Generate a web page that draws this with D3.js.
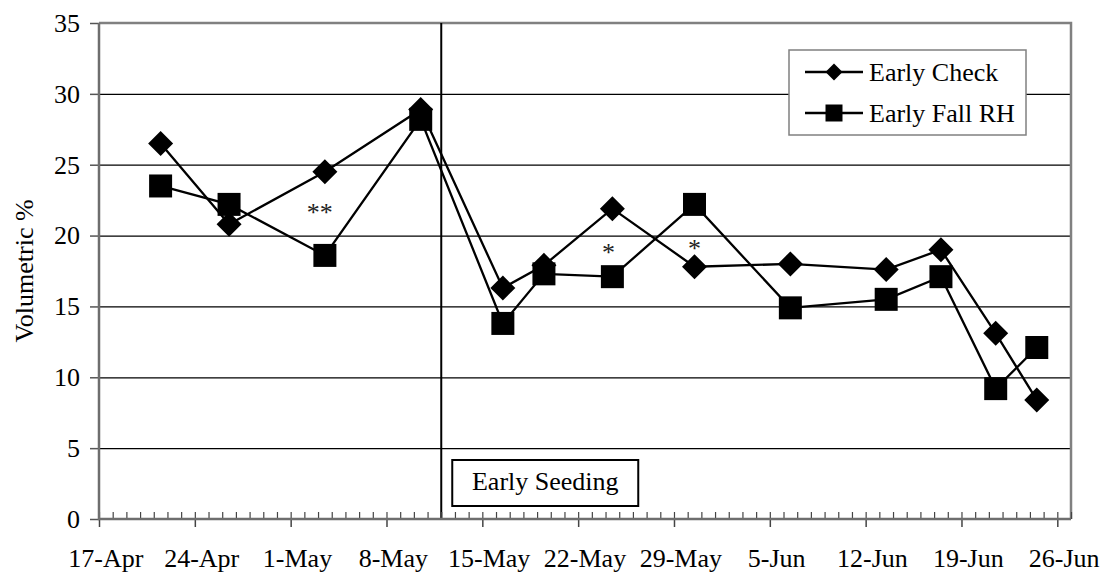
<!DOCTYPE html>
<html>
<head>
<meta charset="utf-8">
<script src="https://cdn.jsdelivr.net/npm/d3@7"></script>
<style>
  body { margin: 0; background: #fff; }
  svg text { font-family: "Liberation Serif", "Times New Roman", Tinos, "DejaVu Serif", serif !important; }
</style>
</head>
<body>
<div id="chart"></div>
<script>
// sampling dates and readings (volumetric soil water %)
var dates = ['21-Apr', '26-Apr', '3-May', '10-May', '16-May', '19-May', '24-May',
             '30-May', '6-Jun', '13-Jun', '17-Jun', '21-Jun', '24-Jun'];
var earlyCheck = [26.5, 20.8, 24.5, 28.9, 16.3, 17.9, 21.9, 17.8, 18.0, 17.6, 19.0, 13.1, 8.4];
var earlyFallRH = [23.5, 22.2, 18.6, 28.2, 13.8, 17.3, 17.1, 22.2, 14.9, 15.5, 17.1, 9.2, 12.1];
var seriesNames = ['Early Check', 'Early Fall RH'];
var majorTicks = ['17-Apr', '24-Apr', '1-May', '8-May', '15-May', '22-May', '29-May',
                  '5-Jun', '12-Jun', '19-Jun', '26-Jun'];
var yTicks = [0, 5, 10, 15, 20, 25, 30, 35];
var seedingDate = '12-May';
// significance marks: date, hour within the day, value at baseline, text
var marks = [
    {date: '3-May', hour: 3, value: 21.0, text: '**'},
    {date: '24-May', hour: 5, value: 18.2, text: '*'},
    {date: '30-May', hour: 12, value: 18.5, text: '*'}
];

var parse = function(s) { return d3.timeParse('%d-%b-%Y')(s + '-2003'); };
var fmt = d3.timeFormat('%-d-%b');

var width = 1104, height = 573;
var margin = {left: 99, right: 33, top: 23, bottom: 54};
var fs = 26;

var svg = d3.select('#chart').append('svg')
    .attr('width', width)
    .attr('height', height);

var x = d3.scaleTime()
    .domain([parse('17-Apr'), parse('27-Jun')])
    .range([margin.left, width - margin.right]);
var y = d3.scaleLinear()
    .domain([0, 35])
    .range([height - margin.bottom, margin.top]);

// points sit in the middle of their day
function xMid(d) { return x(d3.timeHour.offset(d, 12)); }

var x0 = margin.left, x1 = width - margin.right;
var y0 = height - margin.bottom, y1 = margin.top;

// gridlines
svg.append('g')
    .selectAll('line')
    .data(yTicks.filter(function(v) { return v > 0 && v < 35; }))
    .join('line')
    .attr('x1', x0).attr('x2', x1)
    .attr('y1', function(d) { return y(d) + 0.5; })
    .attr('y2', function(d) { return y(d) + 0.5; })
    .attr('stroke', '#000')
    .attr('stroke-width', 1.2);

// plot border (top and right)
svg.append('path')
    .attr('d', 'M' + x0 + ',' + y1 + 'H' + x1 + 'V' + y0)
    .attr('fill', 'none')
    .attr('stroke', '#808080')
    .attr('stroke-width', 2.5);

// seeding line
var sx = x(parse(seedingDate));
svg.append('line')
    .attr('x1', sx).attr('x2', sx)
    .attr('y1', y1).attr('y2', y0)
    .attr('stroke', '#000')
    .attr('stroke-width', 2);

// y axis
var yAxis = svg.append('g')
    .attr('transform', 'translate(' + x0 + ',0)')
    .call(d3.axisLeft(y).tickValues(yTicks).tickSize(9).tickPadding(10).tickFormat(d3.format('d')));
yAxis.select('.domain').remove();
yAxis.selectAll('.tick line').attr('stroke', '#555').attr('stroke-width', 1.5);
yAxis.selectAll('.tick text').attr('font-size', fs).attr('fill', '#000');

// x axis: minor daily ticks pointing in, major weekly ticks pointing out
var minor = svg.append('g')
    .attr('transform', 'translate(0,' + y0 + ')')
    .call(d3.axisBottom(x).ticks(d3.timeDay.every(1)).tickSize(-7).tickFormat(''));
minor.select('.domain').remove();
minor.selectAll('.tick line').attr('stroke', '#444').attr('stroke-width', 1.2);

var major = svg.append('g')
    .attr('transform', 'translate(0,' + y0 + ')')
    .call(d3.axisBottom(x).tickValues(majorTicks.map(parse)).tickSize(8).tickFormat(''));
major.select('.domain').remove();
major.selectAll('.tick line').attr('stroke', '#444').attr('stroke-width', 1.5);

svg.append('g')
    .selectAll('text')
    .data(majorTicks.map(parse))
    .join('text')
    .attr('x', xMid)
    .attr('y', y0 + 48)
    .attr('text-anchor', 'middle')
    .attr('font-size', fs)
    .text(fmt);

// axis lines
svg.append('path')
    .attr('d', 'M' + x0 + ',' + y1 + 'V' + y0 + 'H' + x1)
    .attr('fill', 'none')
    .attr('stroke', '#6e6e6e')
    .attr('stroke-width', 2.5);

// y axis title
svg.append('text')
    .attr('transform', 'translate(33,' + ((y0 + y1) / 2) + ') rotate(-90)')
    .attr('text-anchor', 'middle')
    .attr('font-size', fs)
    .text('Volumetric %');

// series
var diamond = function(r) { return 'M0,' + (-r) + 'L' + r + ',0L0,' + r + 'L' + (-r) + ',0Z'; };
var square = function(r) { return 'M' + (-r) + ',' + (-r) + 'H' + r + 'V' + r + 'H' + (-r) + 'Z'; };

var series = [
    {name: seriesNames[0], values: earlyCheck, marker: diamond(12.5), legendMarker: diamond(8.5)},
    {name: seriesNames[1], values: earlyFallRH, marker: square(11.5), legendMarker: square(8.5)}
];

var line = d3.line()
    .x(function(d) { return xMid(d.date); })
    .y(function(d) { return y(d.value); });

series.forEach(function(s) {
    var pts = dates.map(function(d, i) { return {date: parse(d), value: s.values[i]}; });
    svg.append('path')
        .datum(pts)
        .attr('d', line)
        .attr('fill', 'none')
        .attr('stroke', '#000')
        .attr('stroke-width', 2.3);
    svg.append('g')
        .selectAll('path')
        .data(pts)
        .join('path')
        .attr('transform', function(d) { return 'translate(' + xMid(d.date) + ',' + y(d.value) + ')'; })
        .attr('d', s.marker)
        .attr('fill', '#000');
});

// significance marks
svg.append('g')
    .selectAll('text')
    .data(marks)
    .join('text')
    .attr('x', function(d) { return x(d3.timeHour.offset(parse(d.date), d.hour)); })
    .attr('y', function(d) { return y(d.value); })
    .attr('text-anchor', 'middle')
    .attr('font-size', fs)
    .attr('fill', '#222')
    .text(function(d) { return d.text; });

// early seeding label
var lab = svg.append('g');
lab.append('rect')
    .attr('x', sx + 11).attr('y', y0 - 59)
    .attr('width', 186).attr('height', 46)
    .attr('fill', '#fff')
    .attr('stroke', '#000')
    .attr('stroke-width', 2);
lab.append('text')
    .attr('x', sx + 11 + 93).attr('y', y0 - 29)
    .attr('text-anchor', 'middle')
    .attr('font-size', fs)
    .text('Early Seeding');

// legend
var lg = svg.append('g').attr('transform', 'translate(789,50)');
lg.append('rect')
    .attr('width', 237).attr('height', 85)
    .attr('fill', '#fff')
    .attr('stroke', '#808080')
    .attr('stroke-width', 1.5);
series.forEach(function(s, i) {
    var cy = 22 + i * 41;
    lg.append('line')
        .attr('x1', 16).attr('x2', 74)
        .attr('y1', cy).attr('y2', cy)
        .attr('stroke', '#000').attr('stroke-width', 2.3);
    lg.append('path')
        .attr('transform', 'translate(45,' + cy + ')')
        .attr('d', s.legendMarker)
        .attr('fill', '#000');
    lg.append('text')
        .attr('x', 80).attr('y', cy + 9)
        .attr('font-size', fs)
        .text(s.name);
});
</script>
</body>
</html>
